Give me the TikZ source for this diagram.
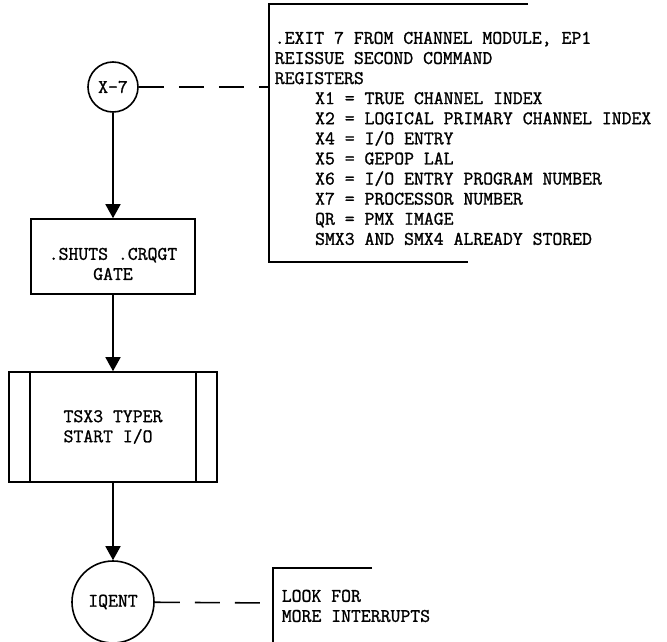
\documentclass[tikz,border=0pt]{standalone}
\usepackage{fontspec}
\newfontfamily\typefont[FakeBold=1.2]{Latin Modern Mono}
\usetikzlibrary{arrows.meta,positioning}

\begin{document}
\begin{tikzpicture}[x=1pt, y=-1pt, line width=1.6pt,
    every node/.style={font=\typefont\fontsize{19.2}{20.1}\selectfont},
    flow/.style={-{Triangle[length=14pt,width=15pt]}},
    link/.style={dash pattern=on 25pt off 15pt}]
    \useasboundingbox (0,0) rectangle (667,642);

    % Flow
    \node[draw, circle, minimum size=50pt, inner sep=0] (x7) at (113,87) {X-7};
    \node[draw, minimum width=164pt, minimum height=75pt] (shuts) at (113,256.5) {};
    \node[align=center, inner sep=0] (shutstext) at (113,264) {.SHUTS .CRQGT\\GATE};
    \node[draw, minimum width=208pt, minimum height=110pt, align=left] (typer) at (113,427) {TSX3 TYPER\\START I/O};
    \draw ([xshift=22pt]typer.north west) -- ([xshift=22pt]typer.south west);
    \draw ([xshift=-22pt]typer.north east) -- ([xshift=-22pt]typer.south east);
    \node[draw, circle, minimum size=82pt, inner sep=0] (iqent) at (113,602) {IQENT};

    \draw[flow] (x7) -- (shuts);
    \draw[flow] (shuts) -- (typer);
    \draw[flow] (typer) -- (iqent);

    % Notes
    \node[anchor=north west, inner sep=0, align=left] (regs) at (274,31) {.EXIT 7 FROM CHANNEL MODULE, EP1\\
        REISSUE SECOND COMMAND\\
        REGISTERS\\
        \hspace*{2.1em}X1 = TRUE CHANNEL INDEX\\
        \hspace*{2.1em}X2 = LOGICAL PRIMARY CHANNEL INDEX\\
        \hspace*{2.1em}X4 = I/O ENTRY\\
        \hspace*{2.1em}X5 = GEPOP LAL\\
        \hspace*{2.1em}X6 = I/O ENTRY PROGRAM NUMBER\\
        \hspace*{2.1em}X7 = PROCESSOR NUMBER\\
        \hspace*{2.1em}QR = PMX IMAGE\\
        \hspace*{2.1em}SMX3 AND SMX4 ALREADY STORED};
    \draw (528,4) -- (269,4) -- (269,262) -- (468,262);
    \coordinate (regsin) at (269,87);
    \draw[link] (x7) -- (regsin);

    \node[anchor=north west, inner sep=0, align=left] (more) at (281,589) {LOOK FOR\\MORE INTERRUPTS};
    \draw (372,568) -- (273,568) -- (273,642);
    \coordinate (morein) at (273,603);
    \draw[link] (iqent) -- (morein);
\end{tikzpicture}
\end{document}
